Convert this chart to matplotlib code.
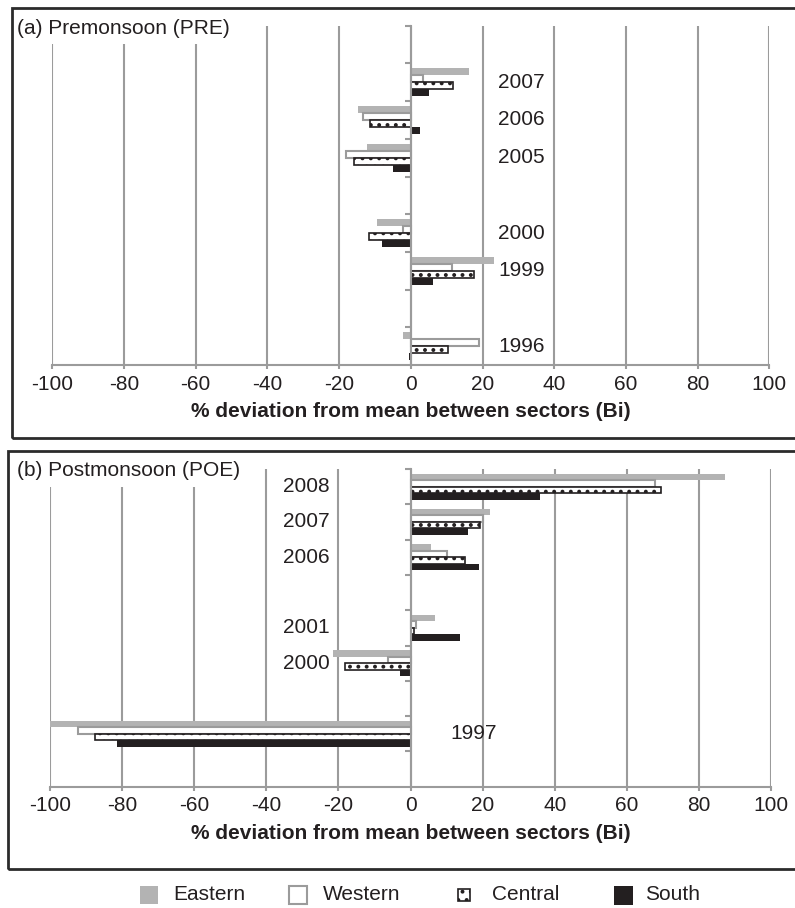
import numpy as np
import matplotlib
matplotlib.use('Agg')
import matplotlib.pyplot as plt
from matplotlib.patches import Rectangle

plt.rcParams['font.family'] = ['Liberation Sans', 'DejaVu Sans']
plt.rcParams['hatch.linewidth'] = 1.6

nan = np.nan

# Premonsoon (PRE): category slots from bottom to top, blanks are empty slots
pre_slots   = ['1996', '', '1999', '2000', '', '2005', '2006', '2007', '']
pre_eastern = [-2.3, nan, 23.1, -9.3, nan, -12.2, -14.6, 16.1, nan]
pre_western = [18.9, nan, 11.4, -2.1, nan, -18.0, -13.2, 3.5, nan]
pre_central = [10.3, nan, 17.5, -11.7, nan, -15.9, -11.3, 11.9, nan]
pre_south   = [-0.5, nan, 6.1, -7.9, nan, -5.0, 2.7, 5.0, nan]

# Postmonsoon (POE)
post_slots   = ['', '1997', '', '2000', '2001', '', '2006', '2007', '2008']
post_eastern = [nan, -100.0, nan, -21.5, 6.9, nan, 5.6, 22.0, 87.3]
post_western = [nan, -92.1, nan, -6.2, 1.5, nan, 10.2, 20.0, 67.9]
post_central = [nan, -87.5, nan, -18.1, 1.0, nan, 15.1, 19.3, 69.5]
post_south   = [nan, -81.5, nan, -3.0, 13.7, nan, 19.0, 16.0, 35.9]

series_names = ['Eastern', 'Western', 'Central', 'South']
xticks = list(range(-100, 101, 20))

GRID = '#9b9b9b'
TXT = '#231f20'
STYLES = {
    'Eastern': dict(color='#b3b3b3', edgecolor='none'),
    'Western': dict(color='white', edgecolor='#9b9b9b', linewidth=1.5),
    'Central': dict(color='white', edgecolor='#231f20', hatch='..', linewidth=1.2),
    'South':   dict(color='#231f20', edgecolor='none'),
}

W, H = 795, 908
fig = plt.figure(figsize=(W / 100, H / 100), dpi=100)


def px_axes(left, right, top, bottom):
    return fig.add_axes([left / W, 1 - bottom / H, (right - left) / W, (bottom - top) / H])


def draw_panel(ax, slots, values, title, title_y, label_pos, label_override):
    y = np.arange(len(slots))
    bh = 0.185
    for i, (name, vals) in enumerate(zip(series_names, values)):
        off = (1.5 - i) * bh
        ax.barh(y + off, vals, height=bh, **STYLES[name])
    for yy, lab in zip(y, slots):
        if lab:
            lx, ha = label_override.get(lab, label_pos)
            ax.text(lx, yy, lab, fontsize=15, color=TXT, va='center', ha=ha)
    ax.set_xlim(-100, 100)
    ax.set_ylim(-0.5, len(slots) - 0.5)
    ax.set_axisbelow(True)
    ax.set_xticks(xticks)
    ax.set_xticklabels([str(t) for t in xticks])
    ax.grid(True, axis='x', color=GRID, linewidth=1.5)
    ax.set_yticks(np.arange(len(slots)) + 0.5)
    ax.set_yticklabels([])
    ax.tick_params(axis='y', direction='out', length=4, width=1.5, color=GRID)
    ax.tick_params(axis='x', direction='out', length=3, width=1.5, color=GRID,
                   labelsize=15, labelcolor=TXT, pad=4)
    for s in ['top', 'right']:
        ax.spines[s].set_visible(False)
    ax.spines['left'].set_position(('data', 0))
    ax.spines['left'].set_color(GRID)
    ax.spines['left'].set_linewidth(1.5)
    ax.spines['bottom'].set_color(GRID)
    ax.spines['bottom'].set_linewidth(1.5)
    ax.set_xlabel('% deviation from mean between sectors (Bi)', fontsize=15,
                  fontweight='bold', color=TXT, labelpad=6)
    ax.text(17 / W, 1 - title_y / H, title, transform=fig.transFigure, fontsize=15,
            color=TXT, va='center', ha='left', clip_on=False, zorder=5,
            bbox=dict(facecolor='white', edgecolor='none', pad=5))


ax_a = px_axes(52.3, 769.3, 25.7, 365)
draw_panel(ax_a, pre_slots, [pre_eastern, pre_western, pre_central, pre_south],
           '(a) Premonsoon (PRE)', 28, (24.4, 'left'), {})

ax_b = px_axes(50, 771, 469, 786.7)
draw_panel(ax_b, post_slots, [post_eastern, post_western, post_central, post_south],
           '(b) Postmonsoon (POE)', 471, (-22.5, 'right'), {'1997': (11, 'left')})

# panel frames
for x0, y0, y1 in [(12, 8, 438), (8, 451, 869)]:
    fig.add_artist(Rectangle((x0 / W, 1 - y1 / H), 1.0, (y1 - y0) / H,
                             transform=fig.transFigure, fill=False,
                             edgecolor='#2b2b2b', linewidth=2))

# legend row
leg_marker_x = [140, 289, 458, 614]
leg_text_x = [173, 323, 492, 645]
leg_size = [18, 18, 12, 19]
for name, mx, tx, sz in zip(series_names, leg_marker_x, leg_text_x, leg_size):
    yc = 895
    st = dict(STYLES[name])
    fig.add_artist(Rectangle((mx / W, 1 - (yc + sz / 2) / H), sz / W, sz / H,
                             transform=fig.transFigure, facecolor=st.pop('color'), **st))
    fig.text(tx / W, 1 - yc / H, name, fontsize=15, color=TXT, va='center', ha='left')

fig.savefig('out.png', dpi=100)
